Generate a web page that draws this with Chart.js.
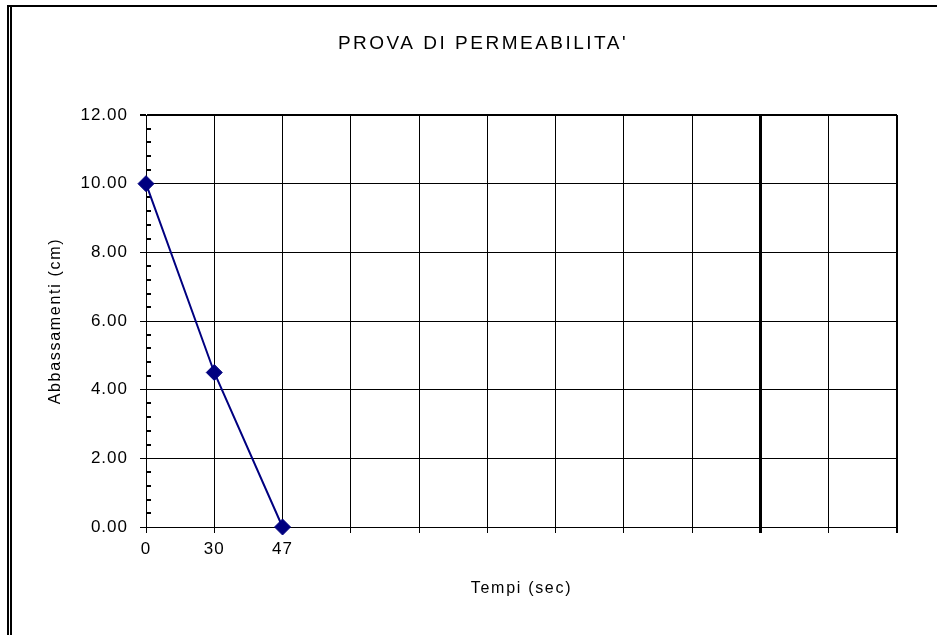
<!DOCTYPE html>
<html>
<head>
<meta charset="utf-8">
<title>PROVA DI PERMEABILITA'</title>
<style>
  html, body { margin: 0; padding: 0; overflow: hidden; background: #ffffff; }
  #grafico { display: block; }
</style>
<script src="https://cdn.jsdelivr.net/npm/chart.js@4/dist/chart.umd.min.js"></script>
</head>
<body>
<canvas id="grafico" width="966" height="635" style="width:966px;height:635px"></canvas>
<script>
// Categorie dell'asse X (tempi in secondi); le colonne vuote restano senza etichetta
const tempi = ['0', '30', '47', '', '', '', '', '', '', '', '', ''];
// Abbassamenti misurati (cm)
const abbassamenti = [10.00, 4.50, 0.00];
// Scala dell'asse Y
const asseYMin = 0;
const asseYMax = 12;
const asseYPasso = 2;

const titolo = "PROVA DI PERMEABILITA'";
const titoloX = 'Tempi (sec)';
const titoloY = 'Abbassamenti (cm)';

const FONT = '"Liberation Sans", Arial, sans-serif';
const NERO = '#000000';
const BLU = '#000080';

// Spaziatura dei caratteri in base alla dimensione del font
const spaziatura = { 19: '2.5px', 17: '1px', 16: '1.7px' };
const spaziaturaTesto = {
  id: 'spaziaturaTesto',
  beforeInit(chart) {
    const ctx = chart.ctx;
    const fill = ctx.fillText.bind(ctx);
    const measure = ctx.measureText.bind(ctx);
    const applica = () => {
      const m = /(\d+(?:\.\d+)?)px/.exec(ctx.font);
      ctx.letterSpacing = (m && spaziatura[Math.round(+m[1])]) || '0px';
    };
    ctx.fillText = (...a) => { applica(); return fill(...a); };
    ctx.measureText = (t) => { applica(); return measure(t); };
  }
};

// Cornice del riquadro del grafico
const cornice = {
  id: 'cornice',
  afterDraw(chart) {
    const ctx = chart.ctx;
    ctx.save();
    ctx.fillStyle = NERO;
    ctx.fillRect(7, 5, chart.width - 7, 2);
    ctx.fillRect(7, 5, 2, chart.height - 5);
    ctx.fillRect(10, 7, 2, chart.height - 7);
    ctx.restore();
  }
};

// Tacche secondarie interne sull'asse Y (cinque suddivisioni per intervallo)
const tacchetteY = {
  id: 'tacchetteY',
  beforeDatasetsDraw(chart) {
    const y = chart.scales.y;
    const passo = y.options.ticks.stepSize;
    const sub = passo / 5;
    const ctx = chart.ctx;
    const left = Math.round(chart.chartArea.left);
    ctx.save();
    ctx.fillStyle = NERO;
    for (let i = 1; y.min + i * sub < y.max - 1e-9; i++) {
      if (i % 5 === 0) continue;
      const py = Math.round(y.getPixelForValue(y.min + i * sub));
      ctx.fillRect(left, py - 1, 5, 2);
    }
    ctx.restore();
  }
};

new Chart(document.getElementById('grafico'), {
  type: 'line',
  data: {
    labels: tempi,
    datasets: [{
      data: abbassamenti,
      borderColor: BLU,
      backgroundColor: BLU,
      borderWidth: 2,
      tension: 0,
      clip: false,
      pointStyle: 'rectRot',
      pointRadius: 8,
      pointBorderWidth: 1,
      pointBackgroundColor: BLU,
      pointBorderColor: BLU,
      fill: false
    }]
  },
  options: {
    responsive: false,
    animation: false,
    devicePixelRatio: 1,
    layout: { padding: { left: 0, right: 0, top: 0, bottom: 0 } },
    plugins: {
      legend: { display: false },
      tooltip: { enabled: false },
      title: {
        display: true,
        text: titolo,
        color: NERO,
        font: { family: FONT, size: 19, weight: 'normal', lineHeight: 1.2 },
        padding: { top: 32, bottom: 60.2 }
      }
    },
    scales: {
      x: {
        type: 'category',
        offset: false,
        grid: {
          offset: false,
          color: NERO,
          lineWidth: (c) => (c.index === 9 ? 3 : (c.index === tempi.length - 1 ? 2 : 1)),
          drawTicks: true,
          tickLength: 6
        },
        border: { display: true, color: NERO, width: 1 },
        ticks: {
          color: NERO,
          autoSkip: false,
          maxRotation: 0,
          padding: 6,
          font: { family: FONT, size: 17 }
        },
        title: {
          display: true,
          text: titoloX,
          color: NERO,
          font: { family: FONT, size: 16, lineHeight: 1.2 },
          padding: { top: 0, bottom: 36.4 }
        },
        afterFit(scale) { scale.height = 108; }
      },
      y: {
        type: 'linear',
        position: 'left',
        min: asseYMin,
        max: asseYMax,
        grid: {
          color: NERO,
          lineWidth: (c) => (c.tick && c.tick.value === asseYMax ? 2 : 1),
          drawTicks: true,
          tickLength: 6
        },
        border: { display: true, color: NERO, width: 1 },
        ticks: {
          stepSize: asseYPasso,
          color: NERO,
          padding: 12,
          font: { family: FONT, size: 17 },
          callback: (v) => Number(v).toFixed(2)
        },
        title: {
          display: true,
          text: titoloY,
          color: NERO,
          font: { family: FONT, size: 16, lineHeight: 1.2 },
          padding: { top: 46, bottom: 0 }
        },
        afterFit(scale) { scale.width = 146; }
      },
      margine: {
        type: 'linear',
        position: 'right',
        display: true,
        grid: { display: false, drawTicks: false },
        border: { display: false },
        ticks: { display: false },
        afterFit(scale) { scale.width = 69; }
      }
    }
  },
  plugins: [spaziaturaTesto, cornice, tacchetteY]
});
</script>
</body>
</html>
